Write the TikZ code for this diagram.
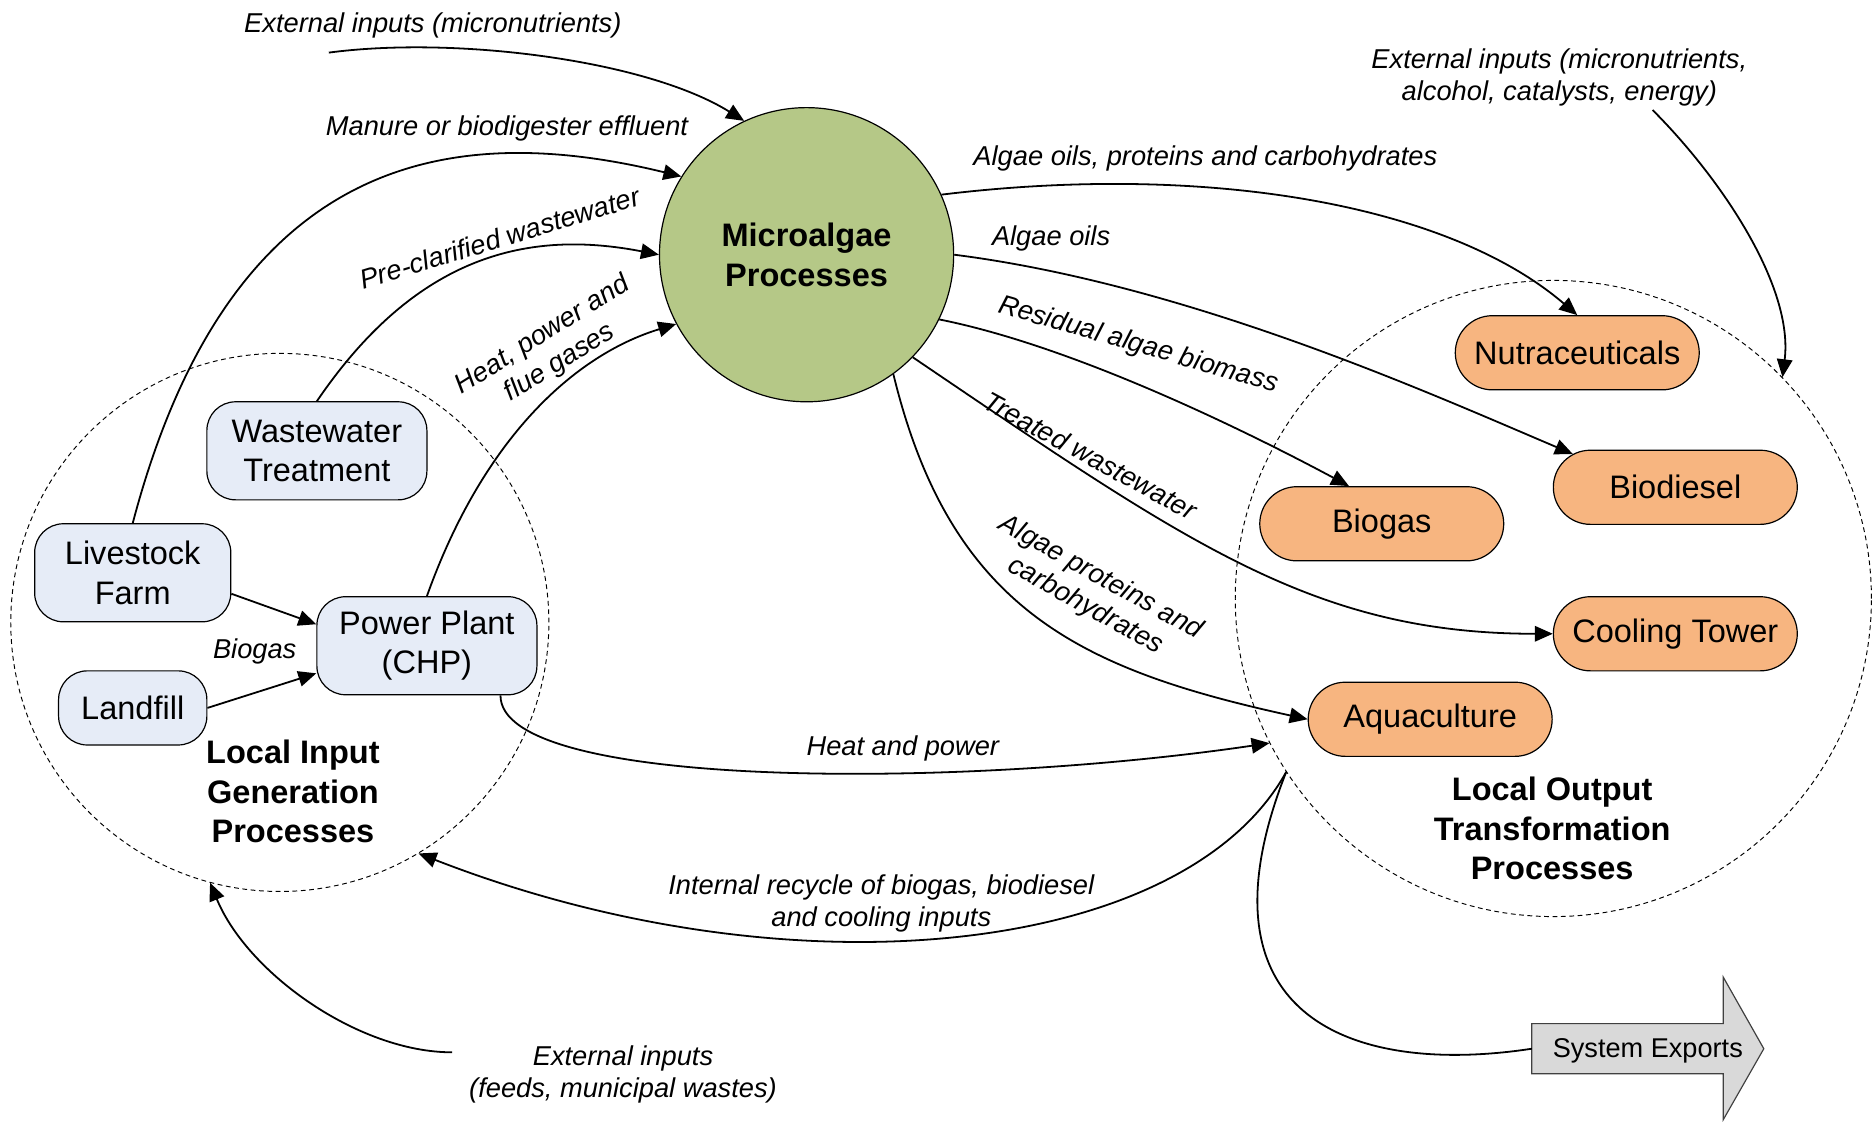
\documentclass[tikz,border=0pt]{standalone}
\usepackage{fontspec}
\setmainfont{Liberation Sans}
\usetikzlibrary{arrows.meta,shapes.misc}
\definecolor{boxblue}{HTML}{E6ECF7}
\definecolor{boxorange}{HTML}{F7B580}
\definecolor{algae}{HTML}{B5C887}
\definecolor{exportgray}{HTML}{D9D9D9}
\definecolor{exportline}{HTML}{404040}
\begin{document}
\begin{tikzpicture}[x=0.5pt,y=-0.5pt,
  lab/.style={font=\itshape\fontsize{11.4}{13.5}\selectfont, align=center, inner sep=0pt},
  regionlab/.style={font=\bfseries\fontsize{13.6}{16.5}\selectfont, align=center, inner sep=0pt},
  bluebox/.style={draw, line width=0.5pt, rounded corners=12pt, fill=boxblue, inner sep=0pt, align=center, font=\fontsize{13.6}{16.5}\selectfont},
  orangebox/.style={rounded rectangle, draw, line width=0.5pt, fill=boxorange, inner sep=0pt, minimum width=102pt, minimum height=31pt, font=\fontsize{13.6}{16.5}\selectfont},
  region/.style={circle, draw, dash pattern=on 2pt off 1.5pt, line width=0.4pt, inner sep=0pt},
  flow/.style={line width=0.75pt, -{Triangle[length=7.5pt,width=6.5pt]}},
  plainflow/.style={line width=0.75pt},
]
\useasboundingbox (0,0) rectangle (1568,937.5);

% regions
\node[region, minimum size=225pt] (lin) at (234,520.5) {};
\node[region, minimum size=266pt] (lout) at (1299,500.5) {};

% main process
\node[circle, draw, line width=0.5pt, fill=algae, minimum size=123pt, inner sep=0pt, align=center,
      font=\bfseries\fontsize{13.6}{16.5}\selectfont] (mp) at (674.5,213) {Microalgae\\Processes};

% input nodes
\node[bluebox, minimum width=92pt, minimum height=41pt] (ww) at (265,377) {Wastewater\\Treatment};
\node[bluebox, minimum width=82pt, minimum height=41pt] (lf) at (111,479) {Livestock\\Farm};
\node[bluebox, minimum width=62pt, minimum height=31pt] (ld) at (111,592) {Landfill};
\node[bluebox, minimum width=92pt, minimum height=41pt] (pp) at (357,540) {Power Plant\\(CHP)};

% output nodes
\node[orangebox] (nut) at (1319,295) {Nutraceuticals};
\node[orangebox] (bd) at (1401,407.5) {Biodiesel};
\node[orangebox] (bg) at (1155.5,438) {Biogas};
\node[orangebox] (ct) at (1401,530) {Cooling Tower};
\node[orangebox] (aq) at (1196,601.5) {Aquaculture};

% system exports arrow
\draw[fill=exportgray, draw=exportline, line width=0.5pt]
  (1281,856) -- (1441,856) -- (1441,817) -- (1475,877) -- (1441,936.5) -- (1441,898) -- (1281,898) -- cycle;
\node[font=\fontsize{11.35}{13.5}\selectfont, inner sep=0pt] (se) at (1378,878.5) {System Exports};
\coordinate (sew) at (1281,877);

% free ends
\coordinate (extA) at (275,44);
\coordinate (extB) at (1382,92);
\coordinate (extC) at (378,880);

% flows into microalgae
\draw[flow] (extA) .. controls (380,30) and (540,50) .. (mp.115);
\draw[flow] (lf.north) .. controls (192,130) and (375,100) .. (mp.148);
\draw[flow] (ww.north) .. controls (349,212) and (443,192) .. (mp.180);
\draw[flow] (pp.north) .. controls (404,367) and (480,297) .. (mp.208);

% biogas to power plant
\draw[flow] (lf.-12) -- (pp.169);
\draw[flow] (ld.east) -- (pp.194);

% heat and power
\draw[flow] (pp.-34) .. controls (418,660) and (800,660) .. (lout.207);

% recycle and exports
\draw[flow] (lout.213) .. controls (990,800) and (661,835) .. (lin.-59);
\draw[plainflow] (lout.213) .. controls (995,850) and (1130,900) .. (sew);

% external inputs
\draw[flow] (extC) .. controls (300,880) and (207,814) .. (lin.-105);
\draw[flow] (extB) .. controls (1440,150) and (1500,240) .. (lout.44);

% flows out of microalgae
\draw[flow] (mp.24) .. controls (1007,136) and (1210,170) .. (nut.north);
\draw[flow] (mp.0) .. controls (995,238) and (1198,330) .. (bd.162);
\draw[flow] (mp.-26) .. controls (900,290) and (1045,362) .. (bg.131);
\draw[flow] (mp.-44) .. controls (994,455) and (1099,530) .. (ct.west);
\draw[flow] (mp.-54.5) .. controls (795,510) and (904,560) .. (aq.west);

% labels
\node[lab] (l1) at (362,21) {External inputs (micronutrients)};
\node[lab] (l2) at (424,107) {Manure or biodigester effluent};
\node[lab, rotate=17] (l3) at (418,199) {Pre-clarified wastewater};
\node[lab, rotate=32] (l4) at (461,292) {Heat, power and\\flue gases};
\node[lab] (l5) at (213,545) {Biogas};
\node[lab] (l6) at (755,625.5) {Heat and power};
\node[lab] (l7) at (737,755.5) {Internal recycle of biogas, biodiesel\\and cooling inputs};
\node[lab] (l8) at (521,898.5) {External inputs\\(feeds, municipal wastes)};
\node[lab] (l9) at (1304,65) {External inputs (micronutrients,\\alcohol, catalysts, energy)};
\node[lab] (l10) at (1008,132.5) {Algae oils, proteins and carbohydrates};
\node[lab] (l11) at (879,199.5) {Algae oils};
\node[lab, rotate=-16] (l12) at (952,289) {Residual algae biomass};
\node[lab, rotate=-28.5] (l13) at (912,381) {Treated wastewater};
\node[lab, rotate=-29] (l14) at (914,495) {Algae proteins and\\carbohydrates};
\node[regionlab] (r1) at (245,662) {Local Input\\Generation\\Processes};
\node[regionlab] (r2) at (1298,693) {Local Output\\Transformation\\Processes};
\end{tikzpicture}
\end{document}
